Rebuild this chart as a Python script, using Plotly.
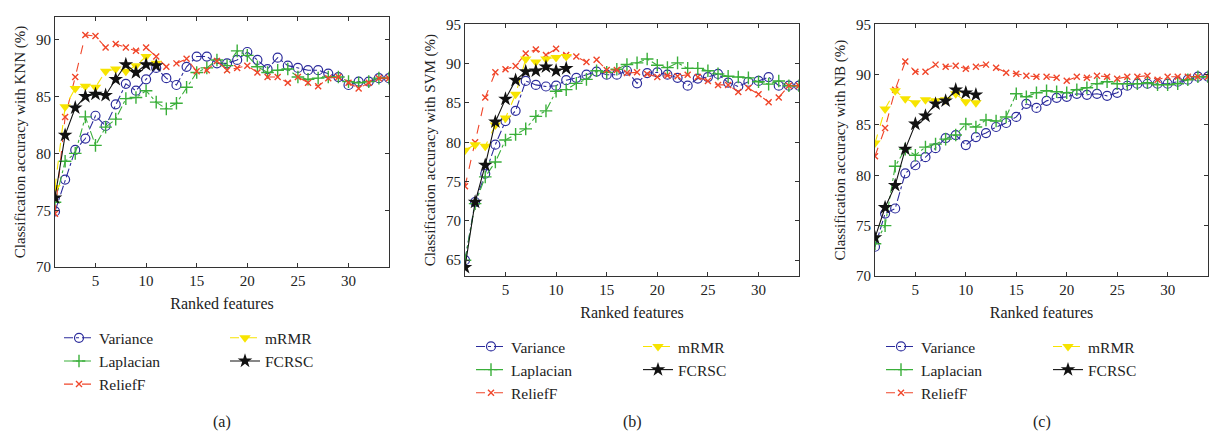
import plotly.graph_objects as go

x_feat = list(range(1, 35))
x_short = list(range(1, 12))
x_ticks = [5, 10, 15, 20, 25, 30]

# Panel (a) KNN
knn_variance = [74.9, 77.7, 80.3, 81.3, 83.3, 82.4, 84.3, 86.1, 85.5, 86.5, 87.5, 86.6, 86.0, 87.6, 88.5, 88.5, 87.9, 87.9, 88.2, 88.9,
                88.2, 87.4, 88.4, 87.7, 87.5, 87.3, 87.3, 87.0, 86.7, 86.0, 86.3, 86.3, 86.6, 86.6]
knn_laplacian = [75.7, 79.3, 80.0, 83.2, 80.7, 82.3, 83.0, 84.8, 84.9, 85.5, 84.5, 83.9, 84.4, 85.8, 87.1, 87.5, 88.2, 87.7, 89.0, 88.6,
                 87.6, 87.1, 87.3, 87.4, 86.7, 86.5, 86.6, 86.7, 86.7, 86.3, 86.2, 86.3, 86.6, 86.6]
knn_relieff = [74.7, 83.2, 86.7, 90.4, 90.3, 89.3, 89.6, 89.3, 89.0, 89.3, 88.5, 87.6, 87.9, 88.3, 87.2, 87.3, 88.1, 87.3, 87.5, 87.7,
               87.1, 86.7, 86.7, 86.2, 86.7, 86.2, 85.9, 86.6, 86.7, 86.2, 85.7, 86.2, 86.6, 86.6]
knn_mrmr = [77.0, 84.1, 85.7, 85.9, 85.8, 87.2, 87.4, 87.2, 87.7, 88.5, 87.9]
knn_fcrsc = [76.1, 81.6, 84.0, 85.0, 85.2, 85.1, 86.5, 87.8, 87.1, 87.8, 87.7]

# Panel (b) SVM
svm_variance = [65.0, 72.4, 76.0, 79.7, 82.7, 84.0, 87.8, 87.3, 87.1, 87.2, 87.9, 88.2, 88.6, 89.0, 88.6, 88.6, 89.1, 87.5, 88.8, 88.9,
                88.6, 88.2, 87.2, 88.1, 88.3, 88.7, 87.6, 87.1, 87.7, 87.8, 88.3, 87.2, 87.2, 87.2]
svm_laplacian = [65.0, 72.2, 75.6, 77.5, 80.3, 81.0, 81.7, 83.3, 84.0, 86.5, 86.7, 87.5, 88.0, 89.1, 88.9, 89.3, 89.9, 90.1, 90.6, 89.8,
                 89.5, 90.1, 89.4, 89.4, 89.1, 88.7, 88.4, 88.3, 88.2, 87.7, 87.4, 87.8, 87.2, 87.2]
svm_relieff = [74.4, 80.0, 85.7, 88.9, 89.3, 89.7, 91.3, 91.8, 91.1, 91.9, 91.1, 90.9, 90.2, 90.5, 89.2, 89.2, 88.8, 88.9, 88.7, 88.3,
               88.5, 88.4, 88.6, 88.3, 87.8, 87.3, 87.3, 86.4, 86.9, 86.1, 85.1, 85.7, 87.2, 87.2]
svm_mrmr = [79.0, 79.7, 79.5, 82.2, 83.1, 86.1, 90.6, 90.2, 90.6, 90.8, 90.9]
svm_fcrsc = [64.1, 72.4, 77.1, 82.6, 85.5, 87.9, 89.0, 89.1, 89.6, 89.1, 89.4]

# Panel (c) NB
nb_variance = [72.9, 76.2, 76.7, 80.2, 81.0, 81.8, 82.7, 83.7, 84.0, 83.0, 83.8, 84.2, 84.8, 85.2, 85.8, 87.1, 86.7, 87.4, 87.7, 87.8,
               88.1, 88.0, 88.1, 87.9, 88.2, 88.9, 89.1, 89.1, 89.1, 89.1, 89.3, 89.5, 89.8, 89.8]
nb_laplacian = [73.2, 75.0, 80.9, 82.6, 82.0, 82.8, 83.1, 83.6, 84.0, 85.1, 84.8, 85.5, 85.4, 85.8, 88.1, 87.8, 88.2, 88.4, 88.3, 88.2,
                88.5, 88.7, 89.1, 89.3, 89.1, 89.1, 89.1, 89.2, 89.0, 89.0, 89.1, 89.5, 89.8, 89.8]
nb_relieff = [81.9, 84.7, 88.5, 91.3, 90.3, 90.3, 91.0, 90.8, 90.9, 90.6, 90.8, 91.0, 90.7, 90.2, 90.1, 89.9, 89.8, 89.8, 89.7, 89.4,
              89.8, 89.7, 89.9, 89.8, 89.6, 89.8, 89.8, 89.9, 89.5, 89.8, 89.8, 89.8, 89.8, 89.8]
nb_mrmr = [83.2, 86.6, 88.4, 87.6, 87.2, 87.5, 87.4, 87.5, 88.1, 87.3, 87.2]
nb_fcrsc = [73.8, 76.8, 79.0, 82.6, 85.1, 85.9, 87.1, 87.4, 88.5, 88.2, 88.0]

y_titles = ["Classification accuracy with KNN (%)",
            "Classification accuracy with SVM (%)",
            "Classification accuracy with NB (%)"]
x_title = "Ranked features"
panel_labels = ["(a)", "(b)", "(c)"]
y_ranges = [[70, 92], [63, 95], [70, 95]]

panels = [
    (knn_variance, knn_laplacian, knn_relieff, knn_mrmr, knn_fcrsc),
    (svm_variance, svm_laplacian, svm_relieff, svm_mrmr, svm_fcrsc),
    (nb_variance, nb_laplacian, nb_relieff, nb_mrmr, nb_fcrsc),
]

W, H = 1212, 441
FONT = "Liberation Serif"
TXT = "#222222"

# layout geometry in pixels
x_dom_px = [(55, 389), (465, 799), (875, 1208)]
y_dom_px = [(9, 269), (17, 278), (17, 278)]
legend_top_px = [325, 334, 334]
legend_col_px = [(59, 225), (471, 638), (881, 1048)]

styles = {
    "Variance": dict(color="#2c2c9c", dash="dashdot", symbol="circle-open", size=9, mlw=1.2),
    "Laplacian": dict(color="#3aaf3a", dash="dashdot", symbol="cross-thin-open", size=9, mlw=1.4),
    "ReliefF": dict(color="#f0462a", dash="dash", symbol="x-thin-open", size=6, mlw=1.4),
    "mRMR": dict(color="#f7e400", dash="dash", symbol="triangle-down", size=10, mlw=0),
    "FCRSC": dict(color="#111111", dash="solid", symbol="star", size=11, mlw=0),
}
names = ["Variance", "Laplacian", "ReliefF", "mRMR", "FCRSC"]

fig = go.Figure()
layout = {}
annotations = []
for i, series in enumerate(panels):
    ax = "" if i == 0 else str(i + 1)
    leg1 = "legend" if i == 0 else "legend" + str(2 * i + 1)
    leg2 = "legend" + str(2 * i + 2)
    for name, ys in zip(names, series):
        s = styles[name]
        xs = x_feat if len(ys) == len(x_feat) else x_short
        fig.add_trace(go.Scatter(
            x=xs, y=ys, name=name, mode="lines+markers",
            xaxis="x" + ax, yaxis="y" + ax,
            legend=leg1 if name in ("Variance", "Laplacian", "ReliefF") else leg2,
            line=dict(color=s["color"], dash=s["dash"], width=1.1),
            marker=dict(symbol=s["symbol"], size=s["size"], color=s["color"],
                        line=dict(color=s["color"], width=s["mlw"])),
        ))
    x0, x1 = x_dom_px[i]
    y0, y1 = y_dom_px[i]
    layout["xaxis" + ax] = dict(
        domain=[x0 / W, x1 / W], anchor="y" + ax, range=[1, 34],
        tickvals=x_ticks, ticks="inside", ticklen=4, tickcolor="#333",
        showline=True, linecolor="#333", linewidth=1, mirror="ticks",
        showgrid=False, zeroline=False,
        tickfont=dict(family=FONT, size=15, color=TXT),
        title=dict(text=x_title, font=dict(family=FONT, size=16, color=TXT), standoff=9),
    )
    layout["yaxis" + ax] = dict(
        domain=[1 - y1 / H, 1 - y0 / H], anchor="x" + ax, range=y_ranges[i],
        dtick=5, ticks="inside", ticklen=4, tickcolor="#333",
        showline=True, linecolor="#333", linewidth=1, mirror="ticks",
        showgrid=False, zeroline=False,
        tickfont=dict(family=FONT, size=15, color=TXT),
        title=dict(text=y_titles[i], font=dict(family=FONT, size=15, color=TXT), standoff=6),
    )
    c1, c2 = legend_col_px[i]
    for leg, cx in ((leg1, c1), (leg2, c2)):
        layout[leg] = dict(
            x=cx / W, y=1 - legend_top_px[i] / H, xanchor="left", yanchor="top",
            orientation="v", bgcolor="rgba(0,0,0,0)", borderwidth=0,
            font=dict(family=FONT, size=15.5, color=TXT), itemwidth=30,
            tracegroupgap=0,
        )
    annotations.append(dict(
        text=panel_labels[i], x=((x0 + x1) / 2) / W, y=1 - 430 / H,
        xref="paper", yref="paper", showarrow=False,
        font=dict(family=FONT, size=16, color=TXT), xanchor="center", yanchor="middle",
    ))

fig.update_layout(
    width=W, height=H, margin=dict(l=0, r=0, t=0, b=0),
    paper_bgcolor="white", plot_bgcolor="white",
    showlegend=True, annotations=annotations, **layout,
)
fig.write_html("out.html", config={"displayModeBar": False},
               post_script="document.body.style.margin='0px';")
